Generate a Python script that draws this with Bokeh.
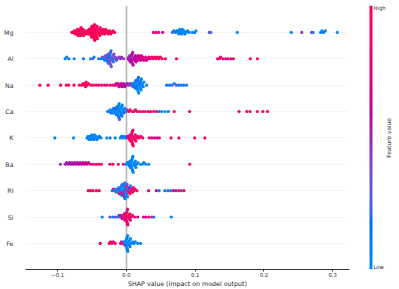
import numpy as np
from bokeh.plotting import figure
from bokeh.layouts import row
from bokeh.models import (ColumnDataSource, LinearColorMapper, FixedTicker,
                          Span, Label, CustomJSTickFormatter)
from bokeh.embed import file_html
from bokeh.resources import INLINE

# ---------------- data ----------------
features = ["Mg", "Al", "Na", "Ca", "K", "Ba", "RI", "Si", "Fe"]   # top -> bottom
x_ticks = [-0.1, 0.0, 0.1, 0.2, 0.3]
x_label = "SHAP value (impact on model output)"
cbar_label = "Feature value"
cbar_low, cbar_high = "Low", "High"

mg_shap = [
    -0.0795,
    -0.0772, -0.0763, -0.0748,
    -0.0736, -0.0728, -0.0721, -0.0714, -0.0705,
    -0.0695, -0.0688, -0.0682, -0.0677, -0.0669, -0.0662,
    -0.0656, -0.0648, -0.0641, -0.0633, -0.0624,
    -0.0612, -0.0601, -0.0588,
    -0.0575, -0.0566, -0.0557, -0.0545,
    -0.0538, -0.0532, -0.0527, -0.0521, -0.0516, -0.0511, -0.0506, -0.0501,
    -0.0497, -0.0493, -0.0489, -0.0486, -0.0483, -0.0480, -0.0477, -0.0474, -0.0470, -0.0466, -0.0462,
    -0.0458, -0.0454, -0.0450, -0.0446, -0.0442, -0.0438, -0.0434, -0.0429, -0.0424,
    -0.0417, -0.0411, -0.0404, -0.0398, -0.0391, -0.0384,
    -0.0377, -0.0366, -0.0355, -0.0345,
    -0.0336, -0.0327, -0.0316, -0.0305,
    -0.0293, -0.0281, -0.0268,
    -0.0254, -0.0243, -0.0229,
    -0.0213, -0.0196,
    -0.0172,
    0.0392, 0.0431, 0.0468, 0.0527,
    0.0668, 0.0689, 0.0712, 0.0731,
    0.0744, 0.0755, 0.0764, 0.0776,
    0.0785, 0.0796, 0.0805, 0.0814,
    0.0826, 0.0838, 0.0851,
    0.0867, 0.0889, 0.0912, 0.0958, 0.0993, 0.1012,
    0.1205, 0.1228, 0.1612, 0.2398, 0.2552, 0.2697, 0.2716,
    0.2826, 0.2845, 0.2868, 0.2893, 0.3068,
]
mg_value = [
    1.0,
    0.95, 1.0, 0.9,
    1.0, 0.95, 1.0, 0.9, 1.0,
    0.95, 1.0, 0.85, 1.0, 0.95, 1.0,
    1.0, 0.9, 1.0, 0.95, 1.0,
    0.9, 1.0, 0.95,
    1.0, 0.95, 1.0, 0.85,
    1.0, 0.95, 1.0, 0.9, 1.0, 0.95, 1.0, 1.0,
    1.0, 0.95, 1.0, 1.0, 0.9, 1.0, 0.95, 1.0, 1.0, 0.85, 1.0,
    0.95, 1.0, 1.0, 0.9, 1.0, 0.95, 1.0, 0.9, 1.0,
    1.0, 0.95, 1.0, 0.9, 1.0, 0.95,
    1.0, 0.9, 0.95, 1.0,
    0.95, 1.0, 0.85, 1.0,
    1.0, 0.9, 0.95,
    0.95, 1.0, 0.9,
    1.0, 0.9,
    0.95,
    0.85, 0.7, 0.8, 0.75,
    0.3, 0.1, 0.05, 0.15,
    0.0, 0.1, 0.05, 0.0,
    0.05, 0.0, 0.1, 0.0,
    0.0, 0.05, 0.1,
    0.0, 0.1, 0.05, 0.0, 0.1, 0.0,
    0.3, 0.25, 0.0, 0.05, 0.45, 0.5, 0.0,
    0.05, 0.0, 0.1, 0.2, 0.0,
]

al_shap = [
    -0.0893, -0.0871, -0.0838, -0.0762, -0.0627, -0.0524, -0.0493, -0.0472, -0.0405, -0.0368, -0.0351,
    -0.0336, -0.0327, -0.0316, -0.0304,
    -0.0296, -0.0290, -0.0284, -0.0279, -0.0273, -0.0267, -0.0261,
    -0.0258, -0.0254, -0.0250, -0.0246, -0.0243, -0.0240, -0.0237, -0.0233, -0.0229, -0.0225, -0.0221,
    -0.0216, -0.0209, -0.0203, -0.0197, -0.0190, -0.0183,
    -0.0175, -0.0162, -0.0148,
    -0.0133, -0.0112, -0.0089, -0.0072, -0.0043,
    0.0024, 0.0033, 0.0041, 0.0049, 0.0057,
    0.0062, 0.0066, 0.0070, 0.0074, 0.0078, 0.0082, 0.0086, 0.0090, 0.0095,
    0.0104, 0.0112, 0.0120, 0.0128, 0.0136,
    0.0144, 0.0153, 0.0162, 0.0172,
    0.0184, 0.0194, 0.0205, 0.0215,
    0.0226, 0.0239, 0.0252,
    0.0265, 0.0278, 0.0291,
    0.0307, 0.0326, 0.0346, 0.0368, 0.0387, 0.0409, 0.0428, 0.0451, 0.0469, 0.0492, 0.0518, 0.0565, 0.0728,
    0.1325, 0.1352, 0.1368, 0.1405, 0.1442, 0.1478, 0.1519, 0.1556, 0.1802, 0.1905,
]
al_value = [
    0.05, 0.0, 0.1, 0.05, 0.1, 0.0, 0.35, 0.05, 0.1, 0.0, 0.3,
    0.1, 0.3, 0.05, 0.2,
    0.2, 0.35, 0.1, 0.3, 0.15, 0.4, 0.25,
    0.3, 0.15, 0.35, 0.2, 0.4, 0.1, 0.3, 0.25, 0.35, 0.15, 0.3,
    0.2, 0.35, 0.1, 0.3, 0.25, 0.4,
    0.3, 0.4, 0.2,
    0.45, 0.35, 0.4, 0.5, 0.45,
    0.5, 0.55, 0.5, 0.45, 0.55,
    0.55, 0.5, 0.6, 0.5, 0.55, 0.6, 0.5, 0.55, 0.6,
    0.6, 0.55, 0.6, 0.65, 0.6,
    0.65, 0.6, 0.7, 0.65,
    0.7, 0.65, 0.7, 0.75,
    0.7, 0.75, 0.7,
    0.75, 0.8, 0.7,
    0.8, 0.75, 0.85, 0.9, 0.9, 0.85, 0.95, 0.9, 0.9, 0.95, 0.9, 0.95, 0.95,
    0.8, 0.85, 0.8, 0.85, 0.8, 0.85, 0.8, 0.85, 0.95, 1.0,
]

na_shap = [
    -0.1262, -0.1141, -0.0958, -0.0876, -0.0842, -0.0763, -0.0688,
    -0.0652, -0.0631,
    -0.0614, -0.0605, -0.0596, -0.0587,
    -0.0574, -0.0553,
    -0.0518, -0.0479, -0.0437, -0.0402, -0.0361, -0.0318, -0.0284, -0.0241, -0.0203,
    -0.0172, -0.0151,
    -0.0134, -0.0121, -0.0107,
    -0.0092, -0.0079, -0.0066,
    -0.0052, -0.0040, -0.0027,
    -0.0012, 0.0009,
    0.0028, 0.0047,
    0.0065, 0.0079, 0.0093,
    0.0103, 0.0110, 0.0117, 0.0123, 0.0130, 0.0137,
    0.0141, 0.0145, 0.0149, 0.0152, 0.0156, 0.0160, 0.0163, 0.0167, 0.0171, 0.0175, 0.0179,
    0.0183, 0.0188, 0.0193, 0.0198, 0.0203, 0.0208, 0.0213, 0.0218,
    0.0225, 0.0234, 0.0243, 0.0254,
    0.0292,
    0.0584, 0.0627, 0.0663, 0.0695, 0.0726, 0.0758, 0.0792, 0.0831, 0.0874,
]
na_value = [
    0.95, 1.0, 0.9, 0.95, 0.9, 1.0, 0.95,
    1.0, 0.95,
    0.95, 1.0, 0.9, 0.95,
    0.95, 0.9,
    0.9, 0.95, 0.85, 0.9, 0.85, 0.9, 0.8, 0.85, 0.75,
    0.8, 0.7,
    0.75, 0.65, 0.7,
    0.6, 0.7, 0.65,
    0.55, 0.65, 0.6,
    0.55, 0.5,
    0.45, 0.5,
    0.35, 0.2, 0.3,
    0.15, 0.1, 0.25, 0.05, 0.1, 0.2,
    0.1, 0.05, 0.15, 0.0, 0.1, 0.2, 0.05, 0.1, 0.0, 0.15, 0.05,
    0.05, 0.1, 0.0, 0.15, 0.05, 0.1, 0.0, 0.05,
    0.1, 0.0, 0.05, 0.1,
    0.05,
    0.15, 0.1, 0.3, 0.05, 0.35, 0.1, 0.0, 0.2, 0.05,
]

ca_shap = [
    -0.0274,
    -0.0253, -0.0240, -0.0226,
    -0.0213, -0.0204, -0.0195, -0.0186,
    -0.0177, -0.0170, -0.0163, -0.0156, -0.0149, -0.0142,
    -0.0137, -0.0134, -0.0130, -0.0127, -0.0124, -0.0120, -0.0117, -0.0113, -0.0110, -0.0106, -0.0102,
    -0.0097, -0.0092, -0.0087, -0.0082, -0.0077, -0.0072, -0.0067, -0.0062,
    -0.0056, -0.0047, -0.0038, -0.0028,
    -0.0014, 0.0006,
    0.0031, 0.0049,
    0.0081, 0.0108, 0.0131, 0.0158, 0.0196, 0.0237, 0.0274, 0.0318, 0.0352, 0.0396, 0.0437,
    0.0474, 0.0512, 0.0561, 0.0608, 0.0695, 0.0918,
    0.1638, 0.1752, 0.1798, 0.1904, 0.1985, 0.2052,
]
ca_value = [
    0.05,
    0.1, 0.0, 0.15,
    0.05, 0.1, 0.0, 0.2,
    0.0, 0.1, 0.05, 0.15, 0.0, 0.1,
    0.05, 0.0, 0.1, 0.2, 0.0, 0.05, 0.15, 0.0, 0.1, 0.05, 0.3,
    0.0, 0.1, 0.05, 0.0, 0.15, 0.05, 0.1, 0.0,
    0.1, 0.0, 0.2, 0.05,
    0.1, 0.35,
    0.85, 0.9,
    0.95, 0.85, 1.0, 0.8, 0.9, 0.95, 0.85, 0.9, 0.8, 0.95, 0.9,
    0.1, 0.05, 0.0, 0.1, 0.95, 1.0,
    0.95, 0.9, 1.0, 0.95, 0.9, 1.0,
]

k_shap = [
    -0.1043, -0.0771,
    -0.0575, -0.0562, -0.0548,
    -0.0536, -0.0527, -0.0516, -0.0505,
    -0.0496, -0.0486, -0.0475, -0.0465,
    -0.0454, -0.0441, -0.0428,
    -0.0412, -0.0395,
    -0.0371, -0.0286, -0.0239, -0.0165,
    -0.0089, -0.0071,
    -0.0052, -0.0034,
    -0.0011, 0.0012,
    0.0027, 0.0035, 0.0043, 0.0051, 0.0058,
    0.0061, 0.0065, 0.0069, 0.0072, 0.0076, 0.0079, 0.0083, 0.0086, 0.0090, 0.0094, 0.0098,
    0.0104, 0.0112, 0.0120, 0.0129, 0.0137,
    0.0147, 0.0166,
    0.0186, 0.0209,
    0.0236, 0.0331, 0.0368, 0.0407, 0.0442, 0.0478, 0.0648, 0.0763, 0.0992, 0.1141,
]
k_value = [
    0.05, 0.0,
    0.1, 0.0, 0.05,
    0.0, 0.1, 0.05, 0.0,
    0.05, 0.0, 0.15, 0.0,
    0.1, 0.0, 0.05,
    0.0, 0.1,
    0.05, 0.0, 0.1, 0.05,
    0.0, 0.1,
    0.05, 0.2,
    0.1, 0.5,
    0.9, 0.6, 0.95, 1.0, 0.85,
    1.0, 0.9, 0.95, 0.65, 1.0, 0.9, 0.95, 1.0, 0.85, 0.9, 1.0,
    0.95, 0.9, 1.0, 0.85, 0.95,
    0.9, 1.0,
    0.95, 0.85,
    0.9, 0.8, 0.75, 0.8, 0.7, 0.75, 0.95, 1.0, 0.95, 1.0,
]

ba_shap = [
    -0.0962,
    -0.0893, -0.0872, -0.0851, -0.0829, -0.0812, -0.0791, -0.0772, -0.0751,
    -0.0733, -0.0712, -0.0694, -0.0673, -0.0654, -0.0633, -0.0614, -0.0593, -0.0574, -0.0553,
    -0.0521, -0.0483, -0.0442, -0.0405, -0.0367, -0.0243, -0.0198, -0.0119, -0.0045,
    -0.0008, 0.0014,
    0.0026, 0.0034, 0.0042, 0.0050, 0.0057,
    0.0061, 0.0065, 0.0068, 0.0072, 0.0075, 0.0079, 0.0082, 0.0086, 0.0089, 0.0093, 0.0097,
    0.0104, 0.0112, 0.0121, 0.0129, 0.0137,
    0.0148, 0.0167, 0.0205, 0.0231, 0.0252, 0.0283, 0.0324, 0.0921,
]
ba_value = [
    0.45,
    0.5, 0.55, 0.5, 0.6, 0.55, 0.5, 0.6, 0.55,
    0.5, 0.65, 0.6, 0.55, 0.65, 0.6, 0.7, 0.65, 0.75, 0.7,
    0.8, 0.85, 0.9, 0.85, 0.95, 0.9, 1.0, 0.95, 0.75,
    0.05, 0.1,
    0.0, 0.1, 0.05, 0.0, 0.15,
    0.05, 0.0, 0.1, 0.05, 0.0, 0.15, 0.05, 0.0, 0.1, 0.05, 0.0,
    0.0, 0.05, 0.1, 0.0, 0.05,
    0.1, 0.0, 0.05, 0.0, 0.1, 0.05, 0.0, 1.0,
]

ri_shap = [
    -0.0556, -0.0523, -0.0486, -0.0438, -0.0397,
    -0.0208, -0.0189,
    -0.0173, -0.0160, -0.0147,
    -0.0136, -0.0128, -0.0120, -0.0112, -0.0104,
    -0.0097, -0.0092, -0.0087, -0.0082, -0.0077, -0.0072, -0.0067, -0.0062,
    -0.0057, -0.0054, -0.0050, -0.0047, -0.0043, -0.0040, -0.0036, -0.0033, -0.0029, -0.0026, -0.0022,
    -0.0018, -0.0014, -0.0010, -0.0006, -0.0002, 0.0002, 0.0006, 0.0010, 0.0015,
    0.0022, 0.0029, 0.0036, 0.0043, 0.0050, 0.0057,
    0.0064, 0.0075, 0.0086, 0.0097,
    0.0108, 0.0125, 0.0152,
    0.0322, 0.0436, 0.0475, 0.0558, 0.0603, 0.0641, 0.0682, 0.0718, 0.0759, 0.0797, 0.0836,
]
ri_value = [
    0.95, 1.0, 0.9, 0.95, 1.0,
    0.05, 0.9,
    0.1, 0.0, 0.4,
    0.05, 0.35, 0.0, 0.1, 0.85,
    0.0, 0.1, 0.4, 0.05, 0.9, 0.0, 0.15, 0.3,
    0.05, 0.0, 0.35, 0.1, 0.85, 0.0, 0.2, 0.05, 0.5, 0.0, 0.1,
    0.9, 0.05, 0.0, 0.4, 0.1, 0.95, 0.05, 0.3, 0.0,
    0.85, 0.1, 0.9, 0.6, 0.95, 0.05,
    0.9, 0.7, 1.0, 0.85,
    0.95, 0.8, 0.9,
    0.95, 0.8, 0.05, 0.1, 0.4, 0.0, 0.75, 0.5, 0.9, 0.45, 0.95,
]

si_shap = [
    -0.0354, -0.0242, -0.0201, -0.0163,
    -0.0128, -0.0109,
    -0.0092, -0.0079, -0.0066,
    -0.0055, -0.0047, -0.0039, -0.0031, -0.0023,
    -0.0018, -0.0014, -0.0010, -0.0006, -0.0002, 0.0002, 0.0006, 0.0010, 0.0013, 0.0016, 0.0019,
    0.0024, 0.0032, 0.0040, 0.0048, 0.0056,
    0.0066, 0.0087,
    0.0117, 0.0163, 0.0248, 0.0281, 0.0322, 0.0367, 0.0398, 0.0652,
]
si_value = [
    0.05, 0.35, 0.1, 0.4,
    0.1, 0.45,
    0.35, 0.8, 0.5,
    0.85, 0.4, 0.9, 0.6, 0.95,
    0.9, 1.0, 0.85, 0.95, 0.7, 1.0, 0.9, 0.35, 0.95, 0.85, 1.0,
    0.9, 0.95, 0.8, 1.0, 0.9,
    0.85, 0.95,
    0.9, 0.6, 0.75, 0.7, 0.85, 0.75, 0.05, 0.05,
]

fe_shap = [
    -0.0382,
    -0.0251, -0.0233,
    -0.0212, -0.0191,
    -0.0164,
    -0.0087, -0.0071,
    -0.0053, -0.0039, -0.0026,
    -0.0017, -0.0013, -0.0009, -0.0005, -0.0001, 0.0003, 0.0007, 0.0011, 0.0014, 0.0017, 0.0019,
    0.0023, 0.0030, 0.0037, 0.0044, 0.0051, 0.0058,
    0.0068, 0.0089,
    0.0108, 0.0129,
    0.0163, 0.0205,
]
fe_value = [
    0.95,
    0.9, 1.0,
    0.95, 0.85,
    0.9,
    0.95, 0.7,
    0.9, 0.1, 0.8,
    0.05, 0.0, 0.1, 0.0, 0.15, 0.05, 0.0, 0.1, 0.05, 0.0, 0.1,
    0.0, 0.05, 0.1, 0.0, 0.05, 0.0,
    0.05, 0.0,
    0.1, 0.05,
    0.0, 0.05,
]

series = {
    "Mg": (mg_shap, mg_value), "Al": (al_shap, al_value), "Na": (na_shap, na_value),
    "Ca": (ca_shap, ca_value), "K": (k_shap, k_value), "Ba": (ba_shap, ba_value),
    "RI": (ri_shap, ri_value), "Si": (si_shap, si_value), "Fe": (fe_shap, fe_value),
}

# ---------------- layout helpers ----------------
BIN = 0.004
ROW_HEIGHT = 0.4


def swarm_offsets(vals):
    """SHAP-style beeswarm: stack points that fall in the same x bin."""
    vals = np.asarray(vals, float)
    quant = np.round(vals / BIN)
    order = np.argsort(quant, kind="stable")
    ys = np.zeros(len(vals))
    layer, last = 0, None
    for i in order:
        if quant[i] != last:
            layer = 0
        ys[i] = np.ceil(layer / 2) * ((layer % 2) * 2 - 1)
        layer += 1
        last = quant[i]
    ys *= 0.9 * (ROW_HEIGHT / np.max(ys + 1))
    return ys


def red_blue_palette(n=256):
    """SHAP red_blue colormap (Lch interpolation, lightness dip in the middle)."""
    blue_lch = (54.0, 70.0, 4.6588)
    red_lch = (54.0, 90.0, 0.35470565 + 2 * np.pi)
    l_mid = 40.0
    t = np.linspace(0, 1, n)
    L = np.where(t < 0.5, blue_lch[0] + (l_mid - blue_lch[0]) * t * 2,
                 l_mid + (red_lch[0] - l_mid) * (t - 0.5) * 2)
    C = blue_lch[1] + (red_lch[1] - blue_lch[1]) * t
    H = blue_lch[2] + (red_lch[2] - blue_lch[2]) * t
    a, b = C * np.cos(H), C * np.sin(H)
    fy = (L + 16) / 116
    fx, fz = fy + a / 500, fy - b / 200

    def finv(f):
        return np.where(f > 6 / 29, f ** 3, 3 * (6 / 29) ** 2 * (f - 4 / 29))

    X, Y, Z = 0.95047 * finv(fx), finv(fy), 1.08883 * finv(fz)
    r = 3.2406 * X - 1.5372 * Y - 0.4986 * Z
    g = -0.9689 * X + 1.8758 * Y + 0.0415 * Z
    bl = 0.0557 * X - 0.2040 * Y + 1.0570 * Z

    def gam(c):
        c = np.clip(c, 0, 1)
        return np.where(c <= 0.0031308, 12.92 * c, 1.055 * np.power(c, 1 / 2.4) - 0.055)

    rgb = np.stack([gam(r), gam(g), gam(bl)], axis=1)
    return ["#%02x%02x%02x" % tuple(int(round(v * 255)) for v in row_) for row_ in rgb]


palette = red_blue_palette()
mapper = LinearColorMapper(palette=palette, low=0, high=1)

xs, ys, cs = [], [], []
n_feat = len(features)
for i, name in enumerate(features):
    pos = n_feat - 1 - i
    sv, fv = series[name]
    off = swarm_offsets(sv)
    xs.extend(sv)
    ys.extend(pos + off)
    cs.extend(fv)
src = ColumnDataSource(dict(x=xs, y=ys, c=cs))

FONT = "DejaVu Sans"
TOTAL_W, TOTAL_H = 399, 289
MAIN_W = 355
TOP, BOTTOM = 5, 20

p = figure(width=MAIN_W, height=TOTAL_H, x_range=(-0.147, 0.3246), y_range=(-0.99, 9.02),
           output_backend="svg", toolbar_location=None,
           min_border_left=25, min_border_right=6, min_border_top=TOP, min_border_bottom=BOTTOM)
p.outline_line_color = None
p.background_fill_color = "white"
p.border_fill_color = "white"

p.xgrid.visible = False
p.ygrid.ticker = FixedTicker(ticks=list(range(n_feat)))
p.ygrid.grid_line_color = "#cccccc"
p.ygrid.grid_line_dash = "1 3"
p.ygrid.grid_line_width = 0.7

p.add_layout(Span(location=0, dimension="height", line_color="#bbbbbb",
                  line_width=1.7, level="underlay"))

p.scatter("x", "y", source=src, size=3.2, line_color=None,
          fill_color={"field": "c", "transform": mapper})

# y axis: feature names
p.yaxis.ticker = FixedTicker(ticks=list(range(n_feat)))
p.yaxis.major_label_overrides = {n_feat - 1 - i: f for i, f in enumerate(features)}
p.yaxis.axis_line_color = None
p.yaxis.major_tick_line_color = None
p.yaxis.minor_tick_line_color = None
p.yaxis.major_tick_out = 0
p.yaxis.major_label_standoff = 12
p.yaxis.major_label_text_font = FONT
p.yaxis.major_label_text_font_size = "6.3px"
p.yaxis.major_label_text_color = "#333333"

# x axis
p.xaxis.ticker = FixedTicker(ticks=x_ticks)
p.xaxis.formatter = CustomJSTickFormatter(
    code="return (tick < -1e-9 ? '\u2212' : '') + Math.abs(tick).toFixed(1);")
p.xaxis.axis_line_color = "#333333"
p.xaxis.major_tick_line_color = "#333333"
p.xaxis.major_tick_out = 2
p.xaxis.major_tick_in = 0
p.xaxis.minor_tick_line_color = None
p.xaxis.minor_tick_out = 0
p.xaxis.major_label_standoff = 1
p.xaxis.major_label_text_font = FONT
p.xaxis.major_label_text_font_size = "5.3px"
p.xaxis.major_label_text_color = "#333333"
p.xaxis.axis_label = x_label
p.xaxis.axis_label_standoff = 0
p.xaxis.axis_label_text_font = FONT
p.xaxis.axis_label_text_font_size = "6.3px"
p.xaxis.axis_label_text_font_style = "normal"
p.xaxis.axis_label_text_color = "#222222"

# ---------------- colour-bar panel ----------------
# A companion figure; in the row its frame is aligned with the main frame
# (same top/bottom), so its data units are set to equal its frame pixels.
CB_W = TOTAL_W - MAIN_W
frame_h = TOTAL_H - TOP - BOTTOM
c = figure(width=CB_W, height=TOTAL_H, x_range=(0, CB_W), y_range=(0, frame_h),
           output_backend="svg", toolbar_location=None,
           x_axis_location=None, y_axis_location=None,
           min_border_left=0, min_border_right=0, min_border_top=TOP, min_border_bottom=BOTTOM)
c.outline_line_color = None
c.grid.visible = False
c.background_fill_color = "white"
c.border_fill_color = "white"

BAR_X, BAR_W = 14, 3
gradient = np.linspace(0, 1, 256).reshape(256, 1)     # low (blue) at the bottom
c.image(image=[gradient], x=BAR_X, y=0, dw=BAR_W, dh=frame_h, color_mapper=mapper)

c.add_layout(Label(x=BAR_X + BAR_W + 1, y=frame_h - 2.5, text=cbar_high,
                   text_align="left", text_baseline="middle", text_font=FONT,
                   text_font_size="5.3px", text_color="#333333"))
c.add_layout(Label(x=BAR_X + BAR_W + 1, y=2.5, text=cbar_low,
                   text_align="left", text_baseline="middle", text_font=FONT,
                   text_font_size="5.3px", text_color="#333333"))
c.add_layout(Label(x=33.5, y=frame_h / 2 - 0.5, text=cbar_label, angle=np.pi / 2,
                   text_align="center", text_baseline="middle", text_font=FONT,
                   text_font_size="5.8px", text_color="#333333"))

layout = row(p, c)
open("out.html", "w").write(file_html(layout, INLINE))
